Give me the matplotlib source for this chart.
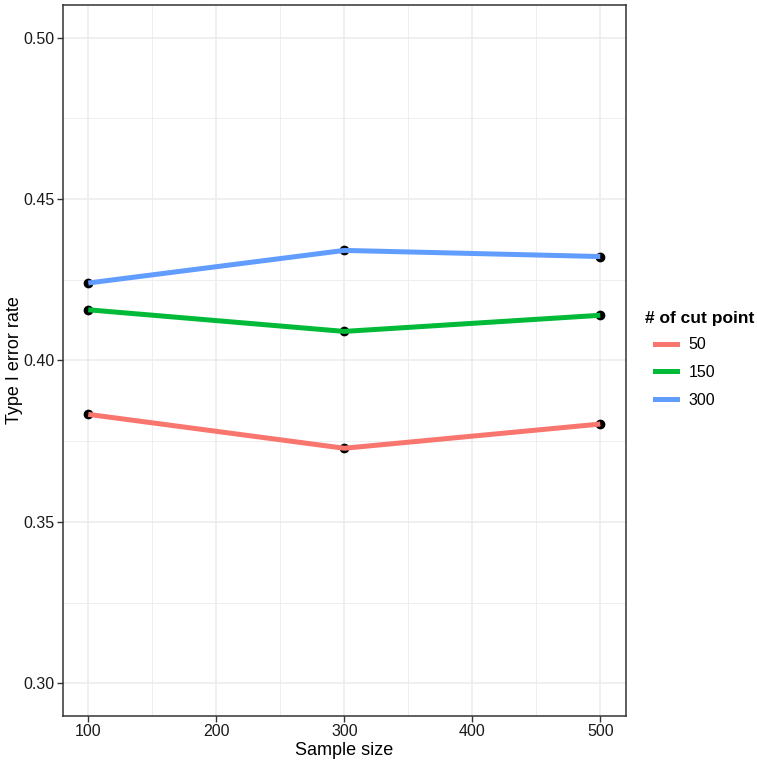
import matplotlib
matplotlib.use("Agg")
import matplotlib.pyplot as plt
from matplotlib.lines import Line2D

plt.rcParams["font.family"] = ["Liberation Sans", "DejaVu Sans"]

# data
sample_size = [100, 300, 500]
cut_points = ["50", "150", "300"]
err_50 = [0.3833, 0.3728, 0.3803]
err_150 = [0.4157, 0.4090, 0.4140]
err_300 = [0.4240, 0.4341, 0.4322]
colors = ["#F8766D", "#00BA38", "#619CFF"]

fig = plt.figure(figsize=(7.57, 7.65), dpi=100)
ax = fig.add_axes([0.0828, 0.0647, 0.744, 0.9282])

series = [err_50, err_150, err_300]
for vals, col in zip(series, colors):
    ax.scatter(sample_size, vals, s=36, color="black", zorder=3)
    ax.plot(sample_size, vals, color=col, lw=3.6, zorder=4, solid_capstyle="butt")

ax.set_xlim(80, 520)
ax.set_ylim(0.29, 0.51)
ax.set_xticks([100, 200, 300, 400, 500])
ax.set_xticks([150, 250, 350, 450], minor=True)
ax.set_yticks([0.30, 0.35, 0.40, 0.45, 0.50])
ax.set_yticks([0.325, 0.375, 0.425, 0.475], minor=True)
ax.set_yticklabels(["0.30", "0.35", "0.40", "0.45", "0.50"])

ax.grid(which="major", color="#EBEBEB", lw=1.1, zorder=0)
ax.grid(which="minor", color="#EBEBEB", lw=0.6, zorder=0)
ax.set_axisbelow(True)

for sp in ax.spines.values():
    sp.set_color("#333333")
    sp.set_linewidth(1.1)
ax.tick_params(which="major", length=4, width=1.0, color="#333333",
               labelsize=11.5, labelcolor="#1A1A1A", pad=2)
ax.tick_params(which="minor", length=0)

ax.set_xlabel("Sample size", fontsize=13, labelpad=2)
ax.set_ylabel("Type I error rate", fontsize=13, va="center")
ax.yaxis.set_label_coords(-0.085, 0.5)

handles = [Line2D([], [], color=c, lw=3.6) for c in colors]
fig.legend(handles, cut_points, loc="center left", bbox_to_anchor=(0.865, 0.513),
           frameon=False, fontsize=11.5, borderpad=0, borderaxespad=0,
           handlelength=1.4, handletextpad=0.7, labelspacing=0.8)
fig.text(0.852, 0.584, "# of cut point", fontsize=12.5, fontweight="bold",
         va="center", ha="left")

fig.savefig("out.png", dpi=100)
